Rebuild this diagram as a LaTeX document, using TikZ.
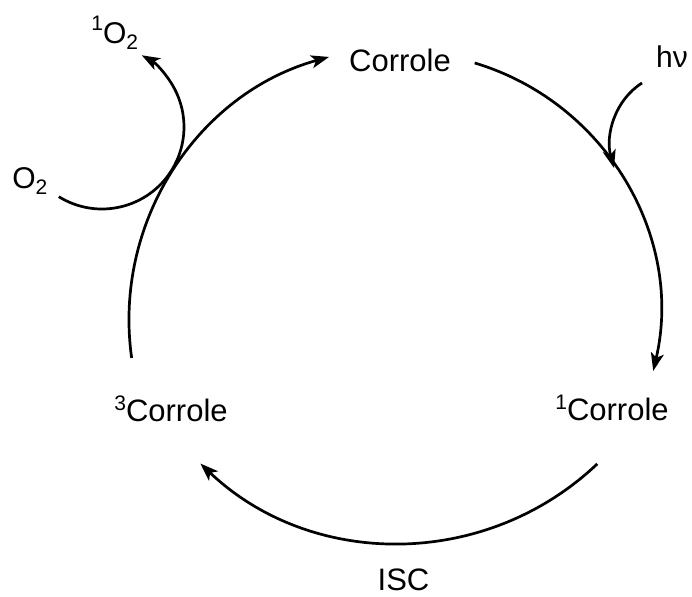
\documentclass[tikz,border=0pt]{standalone}
\usepackage{fontspec}
\setmainfont{Liberation Sans}
\usetikzlibrary{arrows.meta}
\newcommand\upnum[2][11pt]{\raisebox{#1}{\fontsize{21}{21}\selectfont #2}}
\newcommand\lownum[1]{\lower6pt\hbox{\fontsize{21}{21}\selectfont #1}}
\begin{document}
\begin{tikzpicture}[x=1pt,y=-1pt,line width=2.7pt,
  lbl/.style={inner sep=0pt,anchor=base,font=\fontsize{31}{31}\selectfont},
  small/.style={inner sep=0pt,anchor=base west,font=\fontsize{30}{30}\selectfont},
  arr/.style={-{Stealth[length=18pt,width=13pt,inset=4.5pt]}}]
\useasboundingbox (0,0) rectangle (692,596);
% labels
\node[lbl] (corrole) at (400,72) {Corrole};
\node[lbl] (corrole1) at (612,420) {\upnum{1}Corrole};
\node[lbl] (corrole3) at (171,421) {\upnum{3}Corrole};
\node[lbl] (isc) at (403.5,590) {ISC};
\node[small] (oxy) at (11,188) {O\lownum{2}};
\node[small] (singlet) at (90,44) {\upnum[13pt]{1}O\lownum{2}};
\node[lbl,font=\fontsize{30}{30}\selectfont] (hv) at (672,68) {hν};
% arc centres
\coordinate (ctop) at (402,320);
\coordinate (cright) at (400,312);
\coordinate (cbot) at (399,255);
\coordinate (cox) at (102,127);
\coordinate (hvs) at (642,83);
\coordinate (hve) at (614,168);
% connectors
\draw[arr] ([shift={(172:273)}]ctop) arc[start angle=172,end angle=254.5,radius=273];
\draw[arr] ([shift={(-73.3:260)}]cright) arc[start angle=-73.3,end angle=13.1,radius=260];
\draw[arr] ([shift={(46.5:288)}]cbot) arc[start angle=46.5,end angle=133.6,radius=288];
\draw[arr] ([shift={(121.8:82)}]cox) arc[start angle=121.8,end angle=-61,radius=82];
\draw[arr] (hvs) .. controls (615,100) and (605,135) .. (hve);
\end{tikzpicture}
\end{document}
